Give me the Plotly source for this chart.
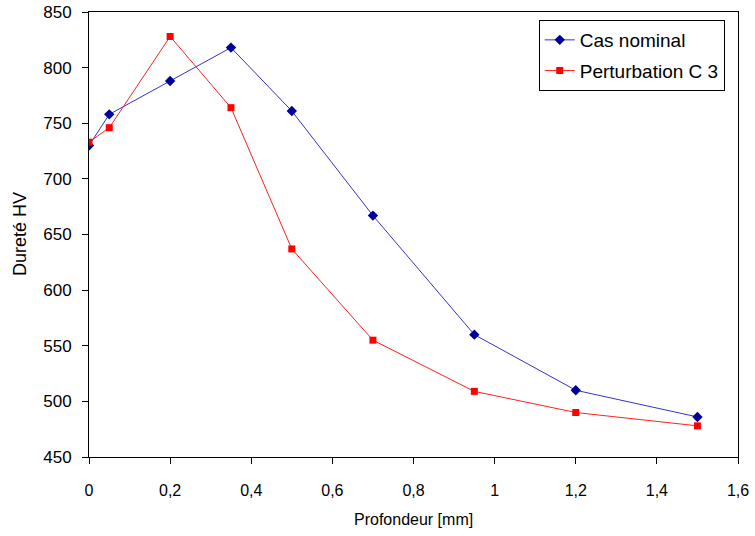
import plotly.graph_objects as go

# Depth profile of hardness
depth = [0, 0.05, 0.2, 0.35, 0.5, 0.7, 0.95, 1.2, 1.5]
hv_nominal = [730, 758, 788, 818, 761, 667, 560, 510, 486]
hv_perturb = [733, 746, 828, 764, 637, 555, 509, 490, 478]

x_ticks = [0, 0.2, 0.4, 0.6, 0.8, 1.0, 1.2, 1.4, 1.6]
x_labels = ["0", "0,2", "0,4", "0,6", "0,8", "1", "1,2", "1,4", "1,6"]
y_ticks = [450, 500, 550, 600, 650, 700, 750, 800, 850]

font = "Liberation Sans, Arial, sans-serif"

fig = go.Figure()
fig.add_trace(go.Scatter(
    x=depth, y=hv_nominal, name="Cas nominal", mode="lines+markers",
    legendgroup="a",
    line=dict(color="#3333CC", width=1),
    marker=dict(symbol="diamond", size=8, color="#000099"),
))
fig.add_trace(go.Scatter(
    x=depth, y=hv_perturb, name="Perturbation C 3", mode="lines+markers",
    legendgroup="b",
    line=dict(color="#FF2020", width=1),
    marker=dict(symbol="square", size=7, color="#FF0000"),
))

fig.update_layout(
    width=755, height=536,
    margin=dict(l=89, r=17, t=12, b=79),
    paper_bgcolor="white", plot_bgcolor="white",
    font=dict(family=font, size=14, color="black"),
    showlegend=True,
    legend=dict(
        x=0.693, y=0.982, xanchor="left", yanchor="top",
        bordercolor="black", borderwidth=1, bgcolor="white",
        font=dict(size=19), traceorder="grouped", tracegroupgap=3,
    ),
    xaxis=dict(
        range=[0, 1.6], tickvals=x_ticks, ticktext=x_labels,
        showgrid=False, zeroline=False, automargin=False,
        showline=True, linecolor="black", linewidth=1, mirror=True,
        ticks="outside", ticklen=6, tickcolor="black",
        ticklabelstandoff=13,
        tickfont=dict(size=16),
    ),
    yaxis=dict(
        range=[450, 850], tickvals=y_ticks,
        showgrid=False, zeroline=False, automargin=False,
        showline=True, linecolor="black", linewidth=1, mirror=True,
        ticks="outside", ticklen=6, tickcolor="black",
        ticklabelstandoff=7,
        tickfont=dict(size=17),
    ),
    annotations=[
        dict(text="Profondeur [mm]", xref="paper", yref="paper",
             x=0.5, y=-0.14, xanchor="center", yanchor="middle",
             showarrow=False, font=dict(size=16)),
        dict(text="Dureté HV", xref="paper", yref="paper",
             x=-0.107, y=0.5, xanchor="center", yanchor="middle",
             textangle=-90, showarrow=False, font=dict(size=18)),
    ],
)

fig.write_html("out.html")
